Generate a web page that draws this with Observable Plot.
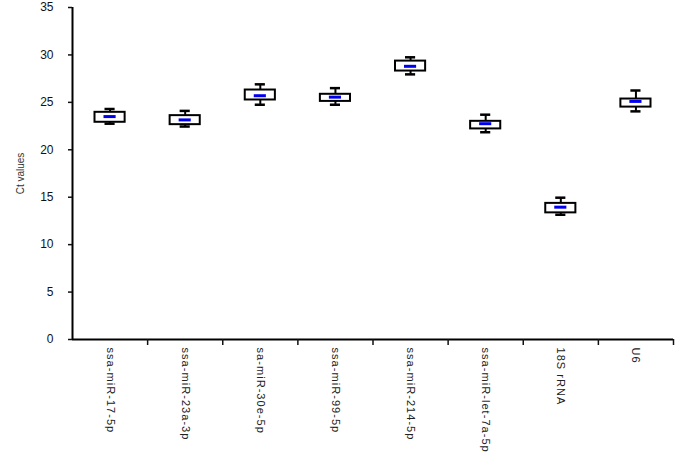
<!DOCTYPE html>
<html>
<head>
<meta charset="utf-8">
<script src="https://cdn.jsdelivr.net/npm/d3@7"></script>
<script src="https://cdn.jsdelivr.net/npm/@observablehq/plot@0.6"></script>
<style>
  html, body { margin: 0; padding: 0; background: #fff; }
  g[aria-label="x-axis tick label"] text { letter-spacing: 1.05px; fill: #222; }
</style>
</head>
<body>
<div id="chart"></div>
<script>
const categories = ["ssa-miR-17-5p", "ssa-miR-23a-3p", "sa-miR-30e-5p", "ssa-miR-99-5p", "ssa-miR-214-5p", "ssa-miR-let-7a-5p", "18S rRNA", "U6"];
const whiskerLow  = [22.75, 22.45, 24.75, 24.75, 27.95, 21.85, 13.15, 24.05];
const boxLow      = [22.90, 22.65, 25.25, 25.10, 28.30, 22.20, 13.35, 24.50];
const means       = [23.50, 23.15, 25.70, 25.55, 28.80, 22.75, 13.95, 25.10];
const boxHigh     = [23.95, 23.60, 26.30, 25.85, 29.35, 23.00, 14.35, 25.35];
const whiskerHigh = [24.30, 24.10, 26.90, 26.50, 29.75, 23.70, 14.95, 26.25];
const yTicks = [0, 5, 10, 15, 20, 25, 30, 35];

const rows = categories.map((name, i) => ({
  name, i,
  wl: whiskerLow[i], bl: boxLow[i], mean: means[i], bh: boxHigh[i], wh: whiskerHigh[i]
}));
const boundaries = categories.map((_, i) => i + 1);
const centers = categories.map((_, i) => i + 0.5);

const chart = Plot.plot({
  width: 675,
  height: 457,
  marginLeft: 72,
  marginRight: 2,
  marginTop: 7,
  marginBottom: 118,
  style: { fontFamily: "'Liberation Sans', Arial, sans-serif", color: "#111", background: "#fff" },
  x: { type: "linear", domain: [0, categories.length] },
  y: { domain: [0, 35] },
  marks: [
    Plot.ruleX(rows, { x: d => d.i + 0.5, y1: "wl", y2: "wh", stroke: "black", strokeWidth: 2 }),
    Plot.rect(rows, { x1: d => d.i, x2: d => d.i + 1, y1: "bl", y2: "bh", fill: "white", stroke: "black", strokeWidth: 2, insetLeft: 22.5, insetRight: 22.5 }),
    Plot.ruleY(rows, { x1: d => d.i, x2: d => d.i + 1, y: "wh", stroke: "black", strokeWidth: 2.5, insetLeft: 32.5, insetRight: 32.5 }),
    Plot.ruleY(rows, { x1: d => d.i, x2: d => d.i + 1, y: "wl", stroke: "black", strokeWidth: 2.5, insetLeft: 32.5, insetRight: 32.5 }),
    Plot.ruleY(rows, { x1: d => d.i, x2: d => d.i + 1, y: "mean", stroke: "#0000ee", strokeWidth: 3, insetLeft: 31.5, insetRight: 31.5 }),
    Plot.ruleY([0], { stroke: "black", strokeWidth: 2 }),
    Plot.ruleX([0], { stroke: "black", strokeWidth: 2 }),
    Plot.axisY({ ticks: yTicks, tickSize: 4, tickPadding: 15, fontSize: 12, strokeWidth: 1.5,
      label: "Ct values", labelAnchor: "center", labelArrow: "none", labelOffset: 56 }),
    Plot.axisX({ ticks: boundaries, tickSize: 6, strokeWidth: 1.5, tickFormat: () => "", label: null }),
    Plot.axisX({ ticks: centers, tickSize: 0, tickPadding: 8, tickRotate: 90, fontSize: 11,
      tickFormat: v => categories[Math.floor(v)], label: null })
  ]
});
document.getElementById("chart").appendChild(chart);
d3.select(chart).selectAll('g[aria-label="y-axis label"] text').style("font-size", "10px").style("fill", "#333");
</script>
</body>
</html>
